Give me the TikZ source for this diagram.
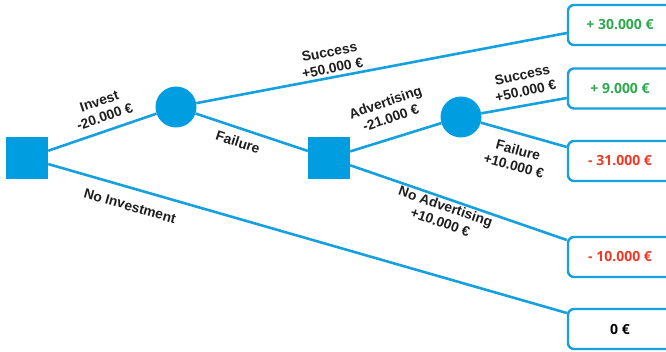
\documentclass[tikz,border=0pt]{standalone}
\usepackage{fontspec}
\setmainfont{Liberation Sans}
\newfontfamily\valuefont{Open Sans}
\usetikzlibrary{calc}
\definecolor{treeblue}{RGB}{22,160,224}
\definecolor{nodeblue}{RGB}{0,158,224}
\definecolor{gainc}{RGB}{46,170,78}
\definecolor{lossc}{RGB}{240,58,40}
\definecolor{labelgray}{RGB}{30,30,30}
\begin{document}
\begin{tikzpicture}[x=1pt,y=-1pt,
  decision/.style={fill=nodeblue, minimum size=42pt, inner sep=0pt},
  chance/.style={circle, fill=nodeblue, minimum size=41pt, inner sep=0pt},
  payoff/.style={draw=treeblue, line width=2.4pt, rounded corners=6pt, fill=white,
    minimum width=104pt, minimum height=40pt, inner sep=0pt,
    font=\valuefont\bfseries\fontsize{14}{16}\selectfont},
  branch/.style={draw=treeblue, line width=2.6pt},
  lbl/.style={font=\bfseries\fontsize{13.8}{16.5}\selectfont, text=labelgray,
    align=center, inner sep=0pt}]
\useasboundingbox (0,0) rectangle (666,352);
\clip (0,0) rectangle (666,352);

% decision and chance nodes
\node[decision] (d1) at (27,158) {};
\node[chance]   (c1) at (176,107) {};
\node[decision] (d2) at (329,158) {};
\node[chance]   (c2) at (461,117) {};

% payoff boxes
\node[payoff, text=gainc] (p1) at (620,25)  {+ 30.000 €};
\node[payoff, text=gainc] (p2) at (620,88.5) {+ 9.000 €};
\node[payoff, text=lossc] (p3) at (620,161) {- 31.000 €};
\node[payoff, text=lossc] (p4) at (620,257) {- 10.000 €};
\node[payoff, text=black] (p5) at (620,329) {0 €};

% branch end points on the boxes
\coordinate (p1in) at ($(p1.west)+(0,8)$);
\coordinate (p2in) at ($(p2.west)+(0,9.5)$);
\coordinate (p3in) at ($(p3.west)+(0,-14)$);
\coordinate (p4in) at ($(p4.west)+(0,-17)$);
\coordinate (p5in) at ($(p5.west)+(0,-16)$);

% branches
\draw[branch] (d1) -- (c1);
\draw[branch] (d1) -- (p5in);
\draw[branch] (c1) -- (p1in);
\draw[branch] (c1) -- (d2);
\draw[branch] (d2) -- (c2);
\draw[branch] (d2) -- (p4in);
\draw[branch] (c2) -- (p2in);
\draw[branch] (c2) -- (p3in);

% branch labels
\node[lbl, rotate=19]  (l1) at (102,109) {Invest\\-20.000 €};
\node[lbl, rotate=-16] (l2) at (130,206) {No Investment};
\node[lbl, rotate=11]  (l3) at (331,60)  {Success\\+50.000 €};
\node[lbl, rotate=-18] (l4) at (238,142) {Failure};
\node[lbl, rotate=19]  (l5) at (388,110) {Advertising\\-21.000 €};
\node[lbl, rotate=12]  (l6) at (524,83)  {Success\\+50.000 €};
\node[lbl, rotate=-15] (l7) at (516,158) {Failure\\+10.000 €};
\node[lbl, rotate=-19] (l8) at (443,214) {No Advertising\\+10.000 €};
\end{tikzpicture}
\end{document}
